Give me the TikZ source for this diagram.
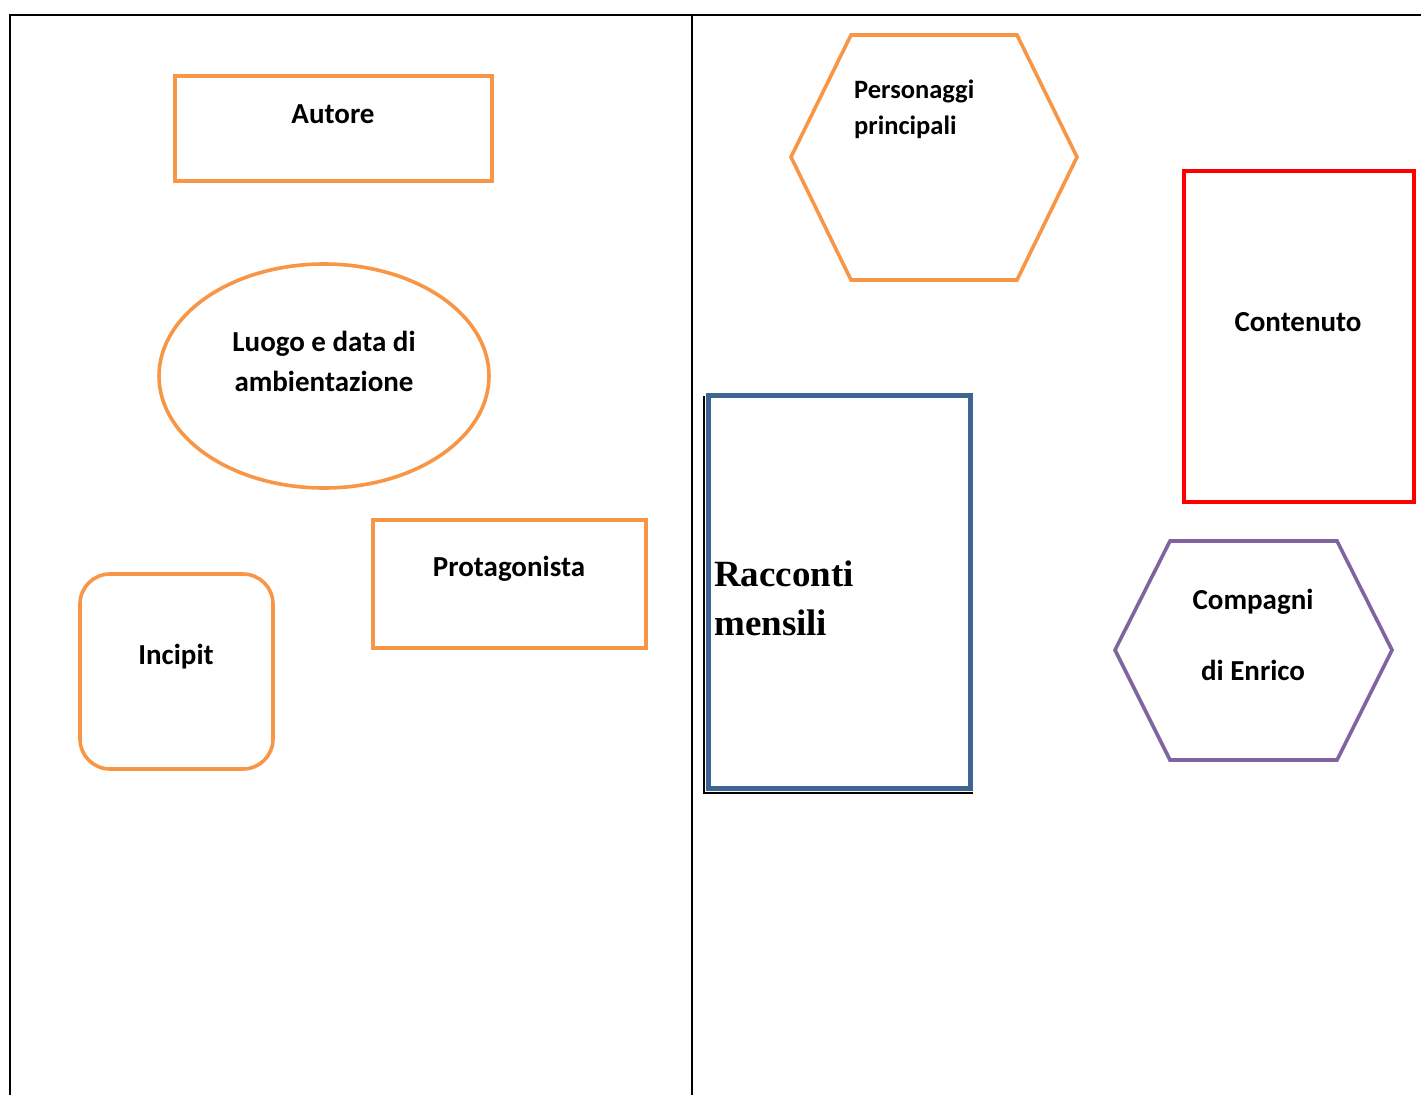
\documentclass[tikz,border=0pt]{standalone}
\usepackage{fontspec}
\setmainfont{Carlito}
\newfontfamily\serifbold{Liberation Serif}
\definecolor{orng}{HTML}{F79646}
\definecolor{bluebox}{HTML}{3F6490}
\definecolor{purp}{HTML}{8064A2}
\definecolor{redbox}{HTML}{FF0000}
\begin{document}
\begin{tikzpicture}[x=1pt,y=-1pt,
  frame/.style={line width=2.6pt,black},
  obox/.style={draw=orng,line width=3.6pt},
  lbl/.style={font=\fontsize{29}{35}\selectfont\bfseries,inner sep=0pt,align=center}]
\useasboundingbox (0,0) rectangle (1421,1095);
% frame
\draw[frame] (10,1095) -- (10,15) -- (1421,15);
\draw[frame] (692,15) -- (692,1095);
% Autore
\draw[obox] (175,76) rectangle (492,181);
\node[lbl] (autore) at (333,114) {Autore};
% ellipse
\draw[obox] (324,376) ellipse [x radius=165, y radius=112];
\node[lbl] (luogo) at (324,361) {Luogo e data di\\[5pt]ambientazione};
% Protagonista
\draw[obox] (373,520) rectangle (646,648);
\node[lbl] (prot) at (509,569) {Protagonista};
% Incipit
\draw[obox,rounded corners=30pt] (80,574) rectangle (273,769);
\node[lbl] (incipit) at (176,657) {Incipit};
% Personaggi hexagon
\coordinate (p1) at (791,157); \coordinate (p2) at (851,35); \coordinate (p3) at (1017,35);
\coordinate (p4) at (1077,157); \coordinate (p5) at (1017,280); \coordinate (p6) at (851,280);
\draw[obox,line join=miter] (p1) -- (p2) -- (p3) -- (p4) -- (p5) -- (p6) -- cycle;
\node[lbl,align=left,anchor=north west,font=\fontsize{26.5}{36}\selectfont\bfseries] (pers) at (854,80) {Personaggi\\principali};
% Contenuto
\draw[draw=redbox,line width=4pt] (1184,171) rectangle (1414,502);
\node[lbl] (cont) at (1298,322) {Contenuto};
% Racconti mensili
\draw[black,line width=2pt] (704,396) -- (704,793) -- (973,793);
\draw[draw=bluebox,line width=5pt] (708,395) rectangle (970,788);
\node[inner sep=0pt,anchor=north west,align=left,font=\serifbold\fontsize{37}{49}\selectfont\bfseries] (racc) at (714,561) {Racconti\\mensili};
% Compagni hexagon
\coordinate (q1) at (1115,650); \coordinate (q2) at (1170,541); \coordinate (q3) at (1337,541);
\coordinate (q4) at (1392,650); \coordinate (q5) at (1337,760); \coordinate (q6) at (1170,760);
\draw[draw=purp,line width=3.6pt,line join=miter] (q1) -- (q2) -- (q3) -- (q4) -- (q5) -- (q6) -- cycle;
\node[lbl] (comp1) at (1253,602) {Compagni};
\node[lbl] (comp2) at (1253,670) {di Enrico};
\end{tikzpicture}
\end{document}
